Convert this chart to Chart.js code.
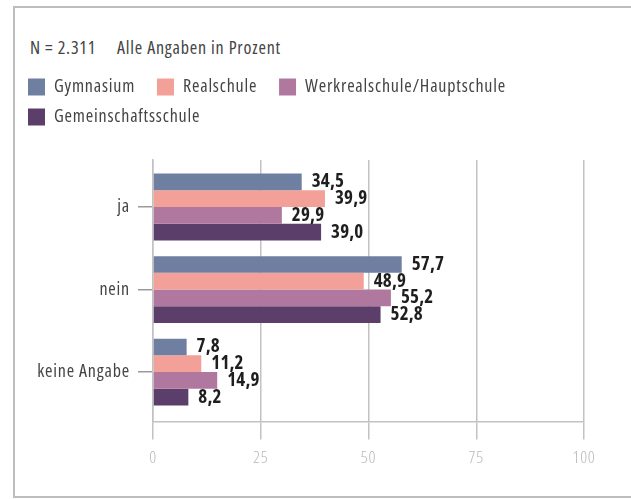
<!DOCTYPE html>
<html>
<head>
<meta charset="utf-8">
<script src="https://cdn.jsdelivr.net/npm/chart.js@4"></script>
<style>
  html, body { margin: 0; padding: 0; background: #fff; overflow: hidden; }
  #wrap { position: relative; width: 631px; height: 499px; }
  #frame { position: absolute; left: 13px; top: 6px; width: 700px; height: 488px;
           border: 2px solid #bdbdbd; border-right: none; }
  .note { position: absolute; top: 35px; line-height: 24px; font-size: 18px; font-weight: 400;
          font-family: "Open Sans", sans-serif; font-stretch: condensed; letter-spacing: 0.8px;
          color: #444; white-space: pre; }
  #chart { position: absolute; left: 0; top: 0; }
</style>
</head>
<body>
<div id="wrap">
  <div id="frame"></div>
  <div class="note" style="left:30px">N = 2.311</div>
  <div class="note" style="left:117px">Alle Angaben in Prozent</div>
  <canvas id="chart" width="631" height="499"></canvas>
</div>
<script>
  const FONT = '"Open Sans", sans-serif';
  // Chart.js passes weight straight into the font string, so width goes there too
  const REGULAR = "400 condensed";
  const LIGHT = "300 condensed";

  const categories = ["ja", "nein", "keine Angabe"];
  const seriesNames = ["Gymnasium", "Realschule", "Werkrealschule/Hauptschule", "Gemeinschaftsschule"];
  const gymnasium = [34.5, 57.7, 7.8];
  const realschule = [39.9, 48.9, 11.2];
  const werkrealschule = [29.9, 55.2, 14.9];
  const gemeinschaftsschule = [39.0, 52.8, 8.2];
  const xTicks = [0, 25, 50, 75, 100];

  const COLORS = ["#6f7fa1", "#f2a098", "#b0789f", "#5c3e6a"];

  const spacing = {
    id: "spacing",
    beforeLayout(chart) {
      chart.ctx.letterSpacing = "0.8px";
    },
    beforeDraw(chart) {
      chart.ctx.letterSpacing = "0.8px";
    },
  };

  // values printed next to the bar ends, German decimal comma
  const valueLabels = {
    id: "valueLabels",
    afterDatasetsDraw(chart) {
      const ctx = chart.ctx;
      ctx.save();
      ctx.letterSpacing = "0.2px";
      ctx.font = "bold condensed 19px " + FONT;
      ctx.fillStyle = "#1e1e1e";
      ctx.textAlign = "left";
      ctx.textBaseline = "middle";
      chart.data.datasets.forEach((ds, i) => {
        chart.getDatasetMeta(i).data.forEach((bar, j) => {
          const txt = ds.data[j].toFixed(1).replace(".", ",");
          ctx.fillText(txt, bar.x + 10, bar.y);
        });
      });
      ctx.restore();
    },
  };

  // leave some room between legend and plot
  const legendGap = {
    id: "legendGap",
    beforeInit(chart) {
      const fit = chart.legend.fit;
      chart.legend.fit = function () {
        fit.call(this);
        this.height += 24;
      };
    },
  };

  const datasets = [gymnasium, realschule, werkrealschule, gemeinschaftsschule].map((data, i) => ({
    label: seriesNames[i],
    data: data,
    backgroundColor: COLORS[i],
    borderWidth: 0,
    barPercentage: 1,
    categoryPercentage: 0.81,
  }));

  new Chart(document.getElementById("chart").getContext("2d"), {
    type: "bar",
    data: { labels: categories, datasets },
    options: {
      indexAxis: "y",
      responsive: false,
      animation: false,
      layout: { padding: { top: 66, left: 16, right: 47, bottom: 23 } },
      plugins: {
        tooltip: { enabled: false },
        legend: {
          position: "top",
          align: "start",
          labels: {
            boxWidth: 17,
            boxHeight: 17,
            padding: 12,
            color: "#444",
            font: { family: FONT, size: 18, weight: REGULAR },
            generateLabels(chart) {
              return Chart.defaults.plugins.legend.labels.generateLabels(chart).map((item) => {
                item.text = item.text + "\u2002";
                return item;
              });
            },
          },
        },
      },
      scales: {
        x: {
          min: 0,
          max: 100,
          afterBuildTicks(scale) {
            scale.ticks = xTicks.map((v) => ({ value: v }));
          },
          grid: { color: "#c2c2c2", lineWidth: 1.5, tickLength: 18 },
          border: { color: "#c2c2c2", width: 1.5 },
          ticks: { color: "#b8b8b8", padding: 8, font: { family: FONT, size: 17, weight: LIGHT } },
        },
        y: {
          afterFit(scale) {
            scale.width = 137;
          },
          // categories sit a bit tighter than the full plot height, with more room below
          afterBuildTicks(scale) {
            scale._startValue = -0.57;
            scale._valueRange = 3.17;
          },
          grid: { drawOnChartArea: false, offset: false, color: "#9a9a9a", lineWidth: 1.5, tickLength: 15 },
          border: { color: "#c2c2c2", width: 1.5 },
          ticks: { color: "#444", padding: 8, font: { family: FONT, size: 18, weight: REGULAR } },
        },
      },
    },
    plugins: [spacing, legendGap, valueLabels],
  });
</script>
</body>
</html>
